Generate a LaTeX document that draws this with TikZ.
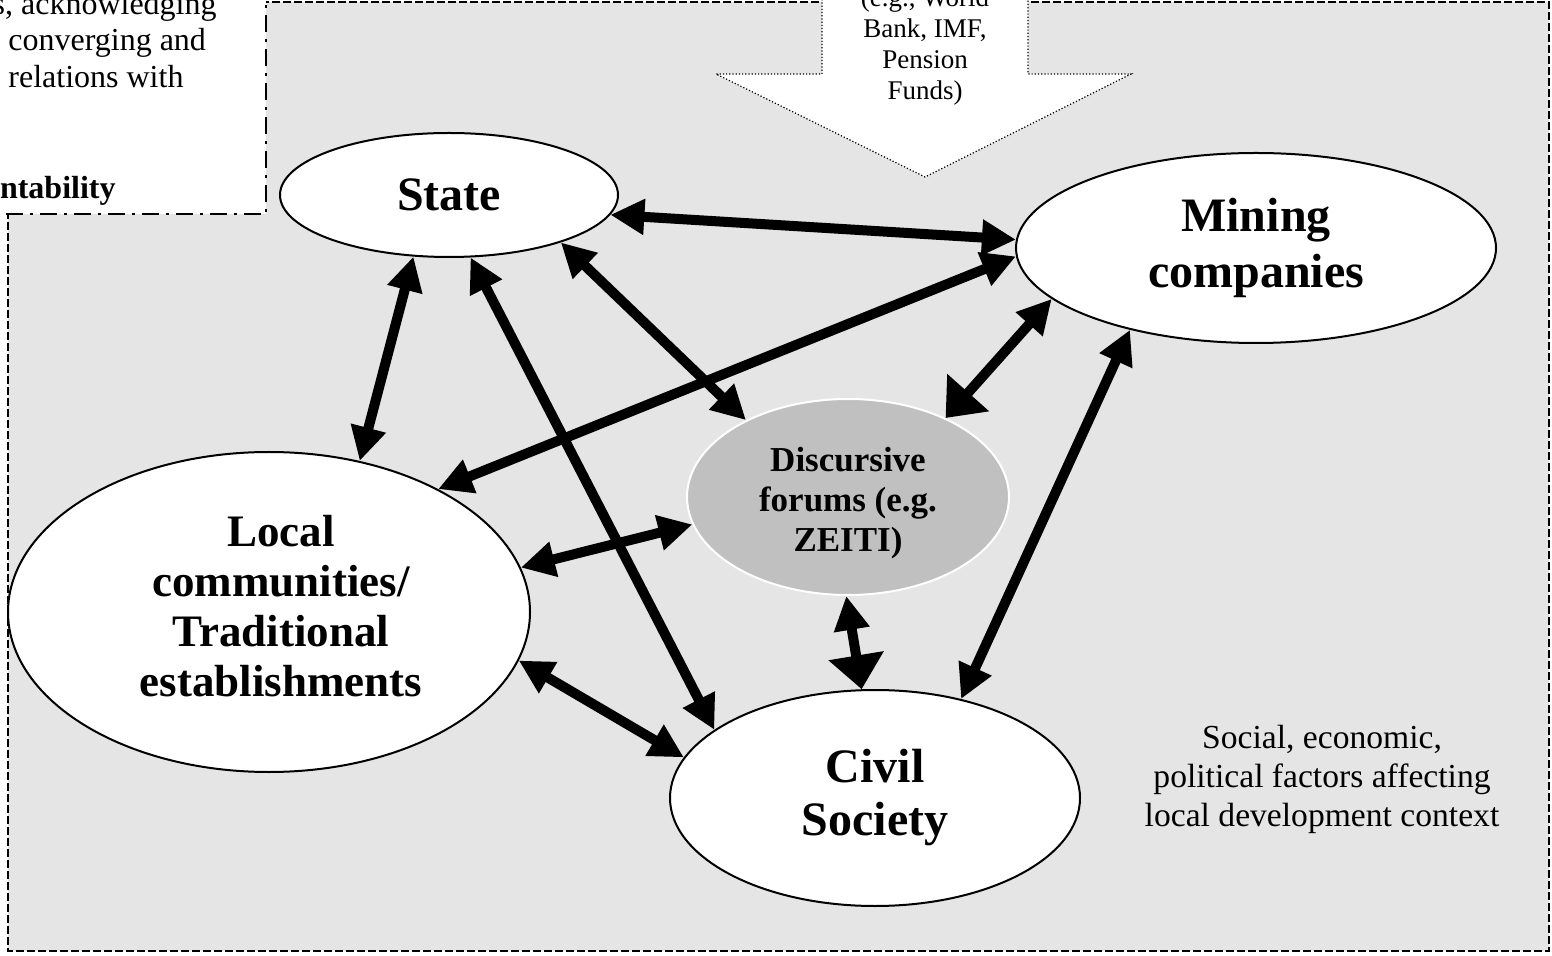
\documentclass[tikz,border=0pt]{standalone}
\usepackage{fontspec}
\setmainfont{Liberation Serif}
\usetikzlibrary{shapes.geometric,arrows.meta}

\definecolor{panelgray}{gray}{0.9}
\definecolor{forumgray}{gray}{0.753}

\tikzset{
  actor/.style={ellipse,draw=black,line width=1pt,fill=white,inner sep=0pt,
    align=center,font=\bfseries\fontsize{24}{28}\selectfont},
  link/.style={line width=5pt,<->},
  wide end/.style={arrows={Triangle[length=17pt,width=17pt]-Triangle[length=17pt,width=27pt]}},
}

\begin{document}
\begin{tikzpicture}[x=0.5pt,y=-0.5pt,>={Triangle[length=17pt,width=17pt]}]
\useasboundingbox (0,0) rectangle (1552,956);
\clip (0,0) rectangle (1552,956);
% local development context
\fill[panelgray] (8,2) rectangle (1549,951);
\draw[line width=1pt,dash pattern=on 4pt off 1.5pt] (8,2) rectangle (1549,951);
\node[font=\fontsize{16.8}{19.5}\selectfont,align=center] (context) at (1322,779)
  {Social, economic,\\political factors affecting\\local development context};

% note box, top left
\draw[fill=white,line width=1pt,dash pattern=on 8.5pt off 3.5pt on 1.5pt off 3.5pt]
  (-60,-60) rectangle (266,214);
\node[font=\fontsize{16}{18.5}\selectfont,anchor=base east,inner sep=0pt] (noteA) at (217,15) {s, acknowledging};
\node[font=\fontsize{16}{18.5}\selectfont,anchor=base west,inner sep=0pt,align=left] (noteB) at (8,88)
  {converging and\\relations with};
\node[font=\bfseries\fontsize{16}{18.5}\selectfont,anchor=base east,inner sep=0pt] (noteC) at (116,199) {ntability};

% external actors arrow
\draw[fill=white,line width=0.6pt,densely dotted] (822,-20) -- (822,74) -- (716,74)
  -- (925,177) -- (1131,74) -- (1028,74) -- (1028,-20);
\node[font=\fontsize{13.5}{15.5}\selectfont,align=center,anchor=south,inner sep=0pt] (donors) at (925,106)
  {(e.g., World\\Bank, IMF,\\Pension\\Funds)};

% actors
\node[actor,minimum width=169pt,minimum height=62pt] (state) at (449,195) {State};
\node[actor,minimum width=240pt,minimum height=95pt] (mining) at (1256,248) {Mining\\companies};
\node[actor,fill=forumgray,draw=white,font=\bfseries\fontsize{17.5}{20}\selectfont,
  minimum width=161pt,minimum height=98pt] (forum) at (848,497) {};
\node[font=\bfseries\fontsize{17.5}{20}\selectfont,align=center,inner sep=0pt] (forumtext) at (848,503)
  {Discursive\\forums (e.g.\\ZEITI)};
\node[actor,minimum width=261pt,minimum height=160pt] (local) at (269,612) {};
\node[font=\bfseries\fontsize{22.5}{25}\selectfont,align=center,inner sep=0pt] (localtext) at (281,606)
  {Local\\communities/\\Traditional\\establishments};
\node[actor,font=\bfseries\fontsize{24}{26.5}\selectfont,minimum width=205pt,minimum height=108pt]
  (civil) at (875,798) {Civil\\Society};

% relations
\draw[link] (state.353) -- (mining.178);
\draw[link] (state.240) -- (local.59);
\draw[link] (state.289) -- (civil.157);
\draw[link] (state.337) -- (forum.143);
\draw[link] (mining.182) -- (local.36);
\draw[link,wide end] (mining.194) -- (forum.39);
\draw[link] (mining.213) -- (civil.49);
\draw[link] (local.10) -- (forum.190);
\draw[link] (local.349) -- (civil.168);
\draw[link,wide end] (forum.269) -- (civil.97);
\end{tikzpicture}
\end{document}
